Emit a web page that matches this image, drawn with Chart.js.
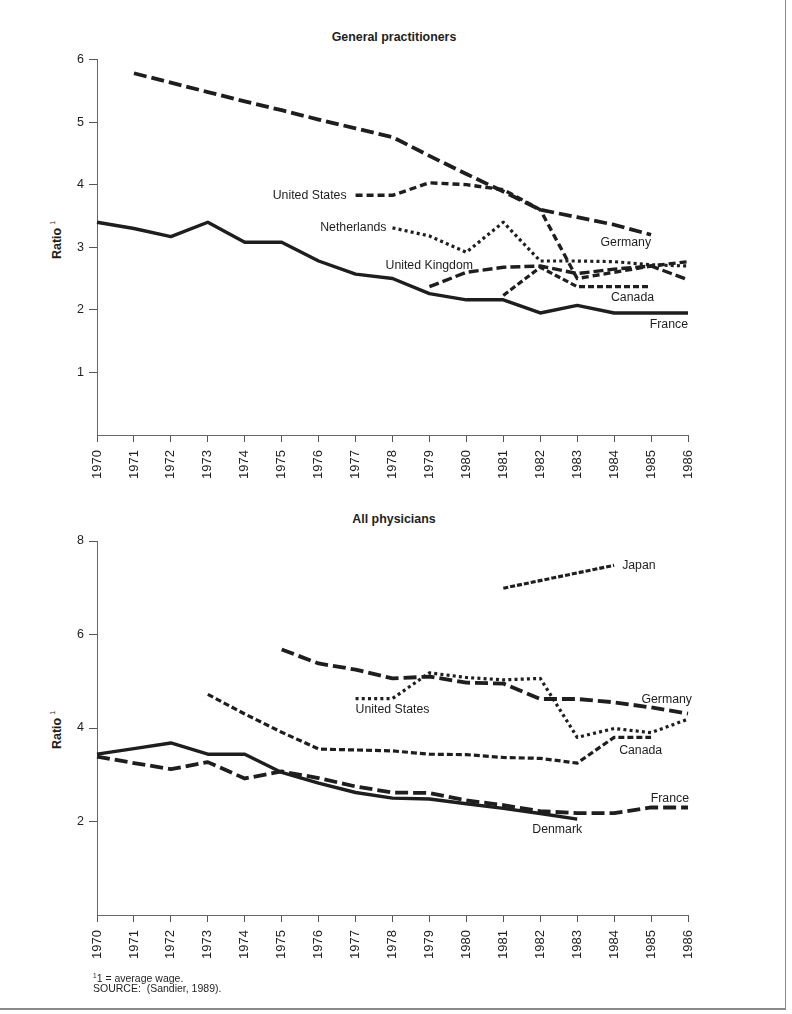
<!DOCTYPE html>
<html>
<head>
<meta charset="utf-8">
<script src="https://cdn.jsdelivr.net/npm/chart.js@4/dist/chart.umd.min.js"></script>
<style>
  html, body { margin:0; padding:0; background:#fff; }
  body { width:792px; height:1014px; position:relative; overflow:hidden;
         font-family:"Liberation Sans", Arial, Helvetica, sans-serif; color:#1e1e1e; }
  canvas { position:absolute; left:0; }
  .title { position:absolute; left:0; width:788px; text-align:center; font-weight:bold;
           font-size:12.4px; line-height:14px; }
  .ytitle { position:absolute; left:55px; font-weight:bold; font-size:12.5px; white-space:nowrap;
            transform:translate(-50%,-50%) rotate(-90deg); line-height:14px; }
  .ytitle sup { font-size:7px; font-weight:normal; vertical-align:6px; margin-left:3px; }
  .foot { position:absolute; left:93px; font-size:10.5px; line-height:13px; white-space:nowrap; }
  .foot sup { font-size:6.5px; vertical-align:4px; }
  .edge-r { position:absolute; left:785px; top:0; width:1px; height:1009px; background:#8a8a8a; }
  .edge-b { position:absolute; left:0; top:1008px; width:786px; height:1.5px; background:#8a8a8a; }
</style>
</head>
<body>
<div class="title" style="top:30px">General practitioners</div>
<div class="title" style="top:512px">All physicians</div>
<div class="ytitle" style="top:240px">Ratio<sup>1</sup></div>
<div class="ytitle" style="top:730px">Ratio<sup>1</sup></div>
<canvas id="c1" width="792" height="482" style="top:0"></canvas>
<canvas id="c2" width="792" height="480" style="top:490px"></canvas>
<div class="foot" style="top:969px"><sup>1</sup>1 = average wage.</div>
<div class="foot" style="top:982px">SOURCE:&nbsp; (Sandier, 1989).</div>
<div class="edge-r"></div>
<div class="edge-b"></div>
<script>
// ---------- data ----------
const years = ['1970','1971','1972','1973','1974','1975','1976','1977','1978','1979','1980','1981','1982','1983','1984','1985','1986'];

// General practitioners (ratio to average wage)
const gpTicks   = [1, 2, 3, 4, 5, 6];
const gpFrance  = [3.40, 3.30, 3.17, 3.40, 3.08, 3.08, 2.78, 2.57, 2.50, 2.26, 2.16, 2.16, 1.95, 2.07, 1.95, 1.95, 1.95];
const gpGermany = [null, 5.78, 5.63, 5.48, 5.33, 5.19, 5.04, 4.90, 4.76, 4.46, 4.17, 3.89, 3.60, 3.48, 3.36, 3.20, null];
const gpUS      = [null, null, null, null, null, null, null, 3.83, 3.83, 4.03, 4.00, 3.92, 3.60, 2.50, 2.60, 2.70, 2.77];
const gpNL      = [null, null, null, null, null, null, null, null, 3.31, 3.18, 2.92, 3.40, 2.78, 2.78, 2.77, 2.72, 2.70];
const gpUK      = [null, null, null, null, null, null, null, null, null, 2.37, 2.60, 2.68, 2.70, 2.58, 2.65, 2.70, 2.48];
const gpCanada  = [null, null, null, null, null, null, null, null, null, null, null, 2.23, 2.68, 2.37, 2.37, 2.37, null];

// All physicians
const apTicks   = [2, 4, 6, 8];
const apDenmark = [3.44, 3.56, 3.68, 3.44, 3.44, 3.05, 2.82, 2.62, 2.50, 2.48, 2.38, 2.28, 2.17, 2.05, null, null, null];
const apFrance  = [3.39, 3.25, 3.12, 3.27, 2.92, 3.07, 2.93, 2.75, 2.62, 2.61, 2.45, 2.35, 2.22, 2.18, 2.18, 2.30, 2.30];
const apCanada  = [null, null, null, 4.72, 4.30, 3.91, 3.55, 3.53, 3.51, 3.44, 3.43, 3.37, 3.35, 3.25, 3.80, 3.80, null];
const apUS      = [null, null, null, null, null, null, null, 4.63, 4.63, 5.18, 5.08, 5.03, 5.06, 3.80, 3.99, 3.90, 4.19];
const apGermany = [null, null, null, null, null, 5.68, 5.38, 5.25, 5.06, 5.10, 4.97, 4.95, 4.62, 4.62, 4.55, 4.44, 4.31];
const apJapan   = [null, null, null, null, null, null, null, null, null, null, null, 6.99, null, null, 7.48, null, null];

// ---------- styling ----------
const INK = '#1e1e1e';
const FONT = '"Liberation Sans", Arial, Helvetica, sans-serif';
Chart.defaults.font.family = FONT;
Chart.defaults.color = INK;

const STY = {
  solid:  { dash: [],       w: 3.4 },
  long:   { dash: [13, 5],  w: 3.8 },
  medium: { dash: [10, 4],  w: 3.4 },
  short:  { dash: [7, 4],   w: 3.4 },
  shorter:{ dash: [6, 3],   w: 3.2 },
  dense:  { dash: [5, 2],   w: 3.2 },
  dot:    { dash: [3, 3.2], w: 3.2 }
};
function ds(data, s, span) {
  return { data, borderColor: INK, borderWidth: STY[s].w, borderDash: STY[s].dash,
           borderCapStyle: 'butt', borderJoinStyle: 'round', tension: 0,
           pointRadius: 0, fill: false, spanGaps: !!span };
}

const labelPlugin = {
  id: 'seriesLabels',
  afterDatasetsDraw(chart, args, opts) {
    const ctx = chart.ctx, xs = chart.scales.x, ys = chart.scales.y;
    ctx.save();
    ctx.font = '12.3px ' + FONT;
    ctx.fillStyle = INK;
    ctx.textBaseline = 'middle';
    for (const l of opts.items) {
      ctx.textAlign = l.align;
      ctx.fillText(l.text, xs.getPixelForValue(years.indexOf(l.year)) + l.dx, ys.getPixelForValue(l.value));
    }
    ctx.restore();
  }
};

function makeChart(id, datasets, ticks, ymax, area, items) {
  return new Chart(document.getElementById(id), {
    type: 'line',
    data: { labels: years, datasets },
    options: {
      responsive: false, animation: false, devicePixelRatio: 1,
      layout: { padding: { top: area.top, right: 792 - area.right, left: 0, bottom: 0 } },
      plugins: { legend: { display: false }, tooltip: { enabled: false }, seriesLabels: { items } },
      scales: {
        x: {
          type: 'category', offset: false,
          grid: { drawOnChartArea: false, drawTicks: true, tickLength: 7, color: '#555', lineWidth: 1 },
          border: { display: true, color: '#666', width: 1 },
          ticks: { minRotation: 90, maxRotation: 90, autoSkip: false, padding: 8,
                   font: { size: 13 }, color: INK },
          afterFit(s) { s.height = area.xh; }
        },
        y: {
          min: 0, max: ymax,
          afterBuildTicks(s) { s.ticks = ticks.map(v => ({ value: v })); },
          grid: { drawOnChartArea: false, drawTicks: true, tickLength: 8, color: '#555', lineWidth: 1 },
          border: { display: true, color: '#666', width: 1 },
          ticks: { padding: 5, font: { size: 12.5 }, color: INK },
          afterFit(s) { s.width = area.left; }
        }
      }
    },
    plugins: [labelPlugin]
  });
}

makeChart('c1', [
  ds(gpFrance, 'solid'),
  ds(gpGermany, 'long'),
  ds(gpUS, 'short'),
  ds(gpNL, 'dot'),
  ds(gpUK, 'medium'),
  ds(gpCanada, 'shorter')
], gpTicks, 6, { top: 59.5, right: 688, left: 97, xh: 47 }, [
  { text: 'United States',  year: '1977', value: 3.82, align: 'right', dx: -9 },
  { text: 'Netherlands',    year: '1978', value: 3.31, align: 'right', dx: -6 },
  { text: 'United Kingdom', year: '1978', value: 2.70, align: 'left',  dx: -7 },
  { text: 'Germany',        year: '1985', value: 3.07, align: 'right', dx: 0 },
  { text: 'Canada',         year: '1985', value: 2.20, align: 'right', dx: 3 },
  { text: 'France',         year: '1986', value: 1.77, align: 'right', dx: 0 }
]);

makeChart('c2', [
  ds(apDenmark, 'solid'),
  ds(apFrance, 'long'),
  ds(apCanada, 'shorter'),
  ds(apUS, 'dot'),
  ds(apGermany, 'long'),
  ds(apJapan, 'dense', true)
], apTicks, 8, { top: 51, right: 688, left: 97, xh: 55 }, [
  { text: 'Japan',         year: '1984', value: 7.47, align: 'left',  dx: 8 },
  { text: 'United States', year: '1977', value: 4.40, align: 'left',  dx: 0 },
  { text: 'Germany',       year: '1986', value: 4.61, align: 'right', dx: 4 },
  { text: 'Canada',        year: '1984', value: 3.51, align: 'left',  dx: 5 },
  { text: 'France',        year: '1986', value: 2.49, align: 'right', dx: 1 },
  { text: 'Denmark',       year: '1983', value: 1.83, align: 'right', dx: 5 }
]);
</script>
</body>
</html>
